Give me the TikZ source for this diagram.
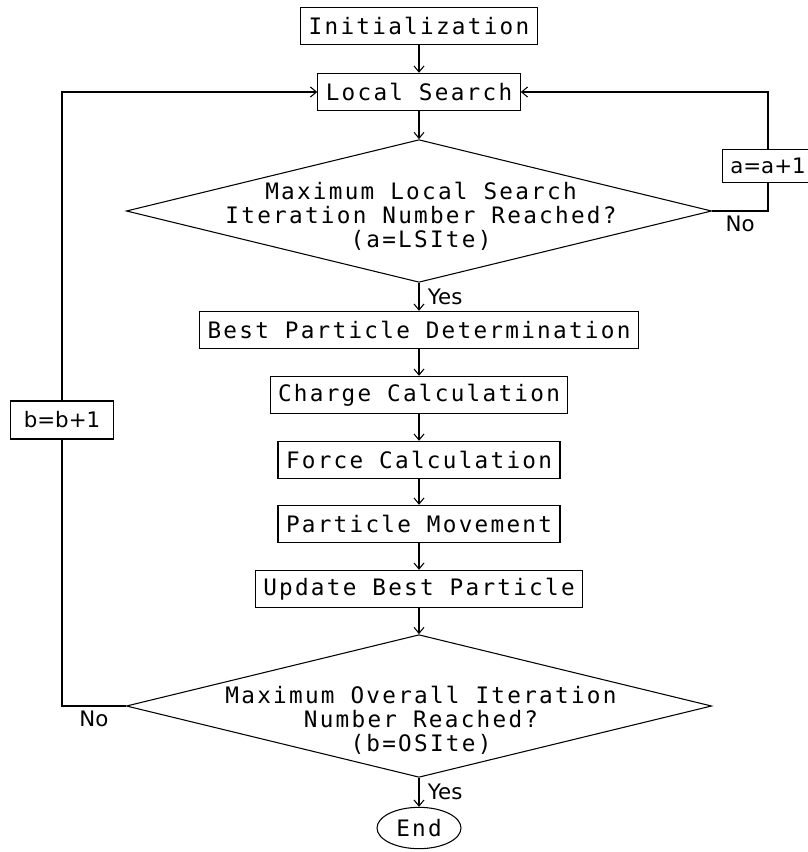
\documentclass[tikz,border=0pt]{standalone}
\usepackage{fontspec}
\usetikzlibrary{shapes.geometric,arrows.meta}
\newfontfamily\flowmono[LetterSpace=10]{DejaVu Sans Mono}
\newfontfamily\flowsans{DejaVu Sans}

\begin{document}
\begin{tikzpicture}[
    x			= 0.75pt,
    y			= -0.75pt,
    line width		= 0.8pt,
    >			= {Straight Barb[length=4.5pt,width=7.5pt]},
    block/.style	= {draw, rectangle, font=\flowmono\fontsize{17}{18}\selectfont, inner xsep=6pt, minimum height=28pt},
    decision/.style	= {draw, diamond, inner sep=0pt, minimum width=439pt, minimum height=107pt},
    question/.style	= {font=\flowmono\fontsize{17}{18}\selectfont, align=center},
    counter/.style	= {draw, rectangle, font=\flowsans\fontsize{16}{19}\selectfont, inner sep=0pt},
    tag/.style		= {font=\flowsans\fontsize{16}{19}\selectfont},
    terminal/.style	= {draw, ellipse, font=\flowmono\fontsize{17}{18}\selectfont, inner sep=0pt, minimum width=63pt, minimum height=31pt}
  ]
\useasboundingbox (0,0) rectangle (807,852);
% main column
\node[block] (init) at (419,26) {Initialization};
\node[block] (ls) at (419,92) {Local Search};
\node[decision] (d1) at (419,211) {};
\node[question] (q1) at (421,216) {Maximum Local Search\\Iteration Number Reached?\\(a=LSIte)};
\node[block] (bpd) at (419,330) {Best Particle Determination};
\node[block] (cc) at (419,395) {Charge Calculation};
\node[block] (fc) at (419,460) {Force Calculation};
\node[block] (pm) at (419,524) {Particle Movement};
\node[block] (ubp) at (419,589) {Update Best Particle};
\node[decision] (d2) at (419,706) {};
\node[question] (q2) at (421,720) {Maximum Overall Iteration\\Number Reached?\\(b=OSIte)};
\node[terminal] (end) at (419,828) {End};
% counters
\node[counter, minimum width=68pt, minimum height=25pt] (aplus) at (768,166) {a=a+1};
\node[counter, minimum width=77pt, minimum height=28.5pt] (bplus) at (62,420) {b=b+1};
% straight arrows
\draw[->] (init) -- (ls);
\draw[->] (ls) -- (d1.north);
\draw[->] (d1.south) -- node[tag, anchor=west, xshift=3pt] (yes1) {Yes} (bpd);
\draw[->] (bpd) -- (cc);
\draw[->] (cc) -- (fc);
\draw[->] (fc) -- (pm);
\draw[->] (pm) -- (ubp);
\draw[->] (ubp) -- (d2.north);
\draw[->] (d2.south) -- node[tag, anchor=west, xshift=3pt] (yes2) {Yes} (end);
% inner loop
\draw (d1.east) -| node[tag, below, pos=0.25] (no1) {No} (aplus.south);
\draw[->] (aplus.north) |- (ls.east);
% outer loop
\draw (d2.west) -| node[tag, below, pos=0.25] (no2) {No} (bplus.south);
\draw[->] (bplus.north) |- (ls.west);
%
\end{tikzpicture}
\end{document}
